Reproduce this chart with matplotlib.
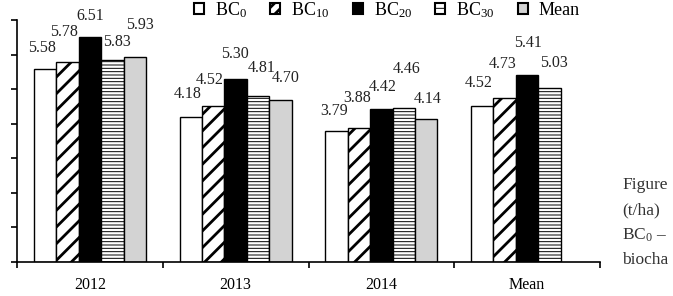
import matplotlib
matplotlib.use('Agg')
import matplotlib.pyplot as plt
from matplotlib.patches import Patch
import numpy as np

plt.rcParams['font.family'] = ['Liberation Serif', 'DejaVu Serif']
plt.rcParams['mathtext.fontset'] = 'custom'
plt.rcParams['mathtext.rm'] = 'Liberation Serif'
plt.rcParams['mathtext.default'] = 'regular'

# data (yield, t/ha)
groups = ['2012', '2013', '2014', 'Mean']
series = ['BC$_{0}$', 'BC$_{10}$', 'BC$_{20}$', 'BC$_{30}$', 'Mean']
bc0 = [5.58, 4.18, 3.79, 4.52]
bc10 = [5.78, 4.52, 3.88, 4.73]
bc20 = [6.51, 5.30, 4.42, 5.41]
bc30 = [5.83, 4.81, 4.46, 5.03]
mean = [5.93, 4.70, 4.14, np.nan]   # no mean bar in the Mean group
values = [bc0, bc10, bc20, bc30, mean]

# bar styles
faces = ['white', 'white', 'black', 'white', '#d3d3d3']
hatches = [None, '//', None, '-----', None]
leg_hatches = [None, '///', None, '---', None]
hatch_lw = [1.0, 2.0, 1.0, 0.7, 1.0]

# manual label nudges (pixels) as in the original figure: (dx, dy above bar top)
label_dy = [[21, 23, 20, 23], [30, 26, 30, 34], [21, 25, 22, 32],
            [18, 28, 39, 25], [32, 22, 20, 0]]
label_dx = [[-3, -3, -2, -4], [-3, -3, -2, -2], [0, -1, 1, 1],
            [5, 4, 3, 4], [5, 5, 1, 0]]

fig = plt.figure(figsize=(6.73, 2.96), dpi=100)
ax = fig.add_axes([17 / 673, 34 / 296, 583 / 673, 242 / 296])

x = np.arange(len(groups))
width = 0.154
for i, vals in enumerate(values):
    with plt.rc_context({'hatch.linewidth': hatch_lw[i], 'hatch.color': 'black'}):
        bars = ax.bar(x + (i - 2) * width, vals, width, color=faces[i],
                      edgecolor='black', linewidth=1.0, hatch=hatches[i],
                      zorder=2)
    for b in bars:
        if hasattr(b, 'set_hatch_linewidth'):
            b.set_hatch_linewidth(hatch_lw[i])
    for j, v in enumerate(vals):
        if np.isnan(v):
            continue
        ax.annotate(f'{v:.2f}', (x[j] + (i - 2) * width, v),
                    xytext=(label_dx[i][j], label_dy[i][j]),
                    textcoords='offset pixels', ha='center', va='center',
                    fontsize=11.5, color='#222222')

ax.set_xlim(-0.5, 3.5)
ax.set_ylim(0, 7)
ax.set_yticks(range(8))
ax.set_yticklabels([])
ax.set_xticks(np.arange(-0.5, 4, 1))
ax.set_xticklabels([])
ax.set_xticks(x, minor=True)
ax.set_xticklabels(groups, minor=True, fontsize=11.5)
ax.tick_params(axis='x', which='minor', length=0, pad=11)
ax.tick_params(axis='both', which='major', length=4, width=1.2, direction='out')
ax.spines['top'].set_visible(False)
ax.spines['right'].set_visible(False)
ax.spines['left'].set_linewidth(1.2)
ax.spines['bottom'].set_linewidth(1.2)

handles = [Patch(facecolor=faces[i], edgecolor='black', linewidth=1.5,
                 hatch=leg_hatches[i]) for i in range(len(series))]
leg = fig.legend(handles=handles, labels=series, loc='upper left',
                 bbox_to_anchor=(194 / 673, 1 - 0 / 296), ncol=5, frameon=False,
                 fontsize=13, handlelength=0.55, handleheight=0.55,
                 handletextpad=0.6, columnspacing=1.3, borderpad=0,
                 borderaxespad=0)
for i, p in enumerate(leg.get_patches()):
    if hasattr(p, 'set_hatch_linewidth'):
        p.set_hatch_linewidth(hatch_lw[i])

# caption fragment visible at the right edge of the crop
caption = ['Figure', '(t/ha)', 'BC$_{0}$ –', 'biocha']
for k, line in enumerate(caption):
    fig.text(622 / 673, 1 - (185 + 25 * k) / 296, line, fontsize=12.5,
             color='#333333', va='center', ha='left')

fig.savefig('out.png', dpi=100)
